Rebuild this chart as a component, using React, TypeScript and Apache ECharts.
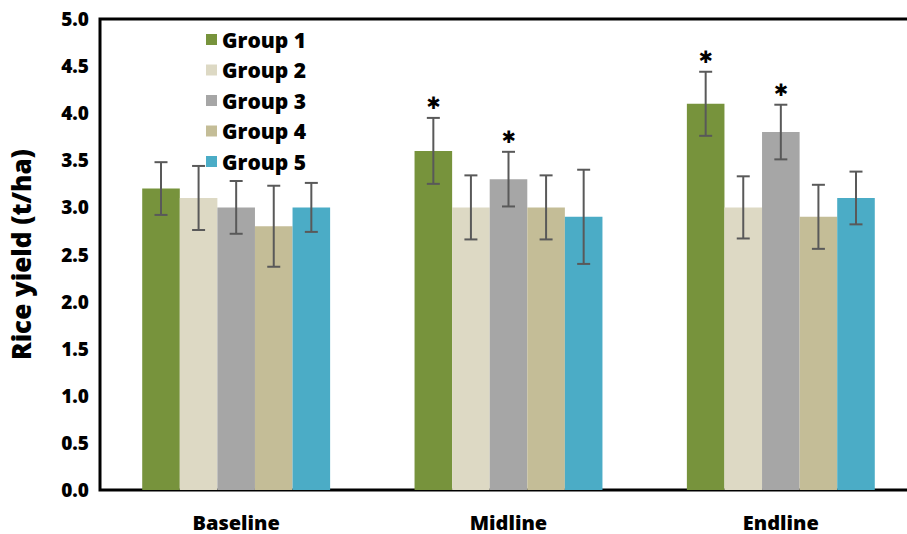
import React, { useEffect, useRef } from "react";
import * as echarts from "echarts";

const categories = ["Baseline", "Midline", "Endline"];
const groupNames = ["Group 1", "Group 2", "Group 3", "Group 4", "Group 5"];
const groupColors = ["#77933C", "#DDD9C4", "#A6A6A6", "#C4BD97", "#4BACC6"];

const group1 = [3.2, 3.6, 4.1];
const group2 = [3.1, 3.0, 3.0];
const group3 = [3.0, 3.3, 3.8];
const group4 = [2.8, 3.0, 2.9];
const group5 = [3.0, 2.9, 3.1];

const group1Err = [0.28, 0.35, 0.34];
const group2Err = [0.34, 0.34, 0.33];
const group3Err = [0.28, 0.29, 0.29];
const group4Err = [0.43, 0.34, 0.34];
const group5Err = [0.26, 0.5, 0.28];

const group1Star = [0, 1, 1];
const group2Star = [0, 0, 0];
const group3Star = [0, 1, 1];
const group4Star = [0, 0, 0];
const group5Star = [0, 0, 0];

const yTicks = { min: 0, max: 5, interval: 0.5 };

const values = [group1, group2, group3, group4, group5];
const errs = [group1Err, group2Err, group3Err, group4Err, group5Err];
const stars = [group1Star, group2Star, group3Star, group4Star, group5Star];

const FONT = "'Open Sans', sans-serif";
const WEIGHT = 800;
const CAT_GAP = 0.31;

export default function App() {
  const ref = useRef<HTMLDivElement>(null);
  useEffect(() => {
    if (!ref.current) return;
    const chart = echarts.init(ref.current, null, { renderer: "svg" });
    const barSeries = groupNames.map((name, gi) => ({
      name,
      type: "bar",
      data: values[gi],
      barGap: "0%",
      barCategoryGap: CAT_GAP * 100 + "%",
      itemStyle: { color: groupColors[gi] },
      z: 2,
    }));
    const errSeries = groupNames.map((name, gi) => ({
      name: name + " err",
      type: "custom",
      z: 5,
      data: categories.map((_, ci) => [ci, values[gi][ci], errs[gi][ci], stars[gi][ci]]),
      renderItem: (params: any, api: any) => {
        const ci = api.value(0);
        const v = api.value(1);
        const e = api.value(2);
        const s = api.value(3);
        const band = api.size([1, 0])[0];
        const barW = (band * (1 - CAT_GAP)) / 5;
        const cx = api.coord([ci, v])[0] + (gi - 2) * barW;
        const yTop = api.coord([ci, v + e])[1];
        const yBot = api.coord([ci, v - e])[1];
        const cap = 6.5;
        const st = { stroke: "#595959", lineWidth: 2 };
        const children: any[] = [
          { type: "line", shape: { x1: cx, y1: yTop, x2: cx, y2: yBot }, style: st },
          { type: "line", shape: { x1: cx - cap, y1: yTop, x2: cx + cap, y2: yTop }, style: st },
          { type: "line", shape: { x1: cx - cap, y1: yBot, x2: cx + cap, y2: yBot }, style: st },
        ];
        if (s) {
          children.push({
            type: "text",
            x: cx,
            y: yTop - 15,
            style: {
              text: "✱",
              fontSize: 17,
              fontWeight: "bold",
              fontFamily: "DejaVu Sans",
              fill: "#000",
              align: "center",
              verticalAlign: "middle",
            },
          });
        }
        return { type: "group", children };
      },
    }));
    chart.setOption({
      animation: false,
      backgroundColor: "#fff",
      grid: {
        left: 99,
        right: 0,
        top: 19,
        bottom: 44,
        show: true,
        borderColor: "#000",
        borderWidth: 3,
        containLabel: false,
      },
      legend: {
        data: groupNames,
        orient: "vertical",
        left: 201,
        top: 24,
        itemWidth: 11,
        itemHeight: 11,
        itemGap: 9.5,
        icon: "rect",
        textStyle: { fontFamily: FONT, fontWeight: WEIGHT, fontSize: 21, color: "#000", lineHeight: 20 },
      },
      xAxis: {
        type: "category",
        data: categories,
        axisLine: { show: false },
        axisTick: { show: false },
        axisLabel: { fontFamily: FONT, fontWeight: WEIGHT, fontSize: 20, color: "#000", margin: 22 },
      },
      yAxis: {
        type: "value",
        min: yTicks.min,
        max: yTicks.max,
        interval: yTicks.interval,
        name: "Rice yield (t/ha)",
        nameLocation: "middle",
        nameGap: 66,
        nameTextStyle: { fontFamily: FONT, fontWeight: WEIGHT, fontSize: 26, color: "#000" },
        axisLine: { show: false },
        axisTick: { show: false },
        splitLine: { show: false },
        axisLabel: {
          fontFamily: FONT,
          fontWeight: WEIGHT,
          fontSize: 19,
          color: "#000",
          margin: 11,
          formatter: (v: number) => v.toFixed(1),
        },
      },
      series: [...barSeries, ...errSeries],
    });
    return () => chart.dispose();
  }, []);
  return (
    <div style={{ position: "fixed", left: 0, top: 0, width: 907, height: 534, overflow: "hidden" }}>
      <div ref={ref} style={{ width: 917, height: 534 }} />
    </div>
  );
}
